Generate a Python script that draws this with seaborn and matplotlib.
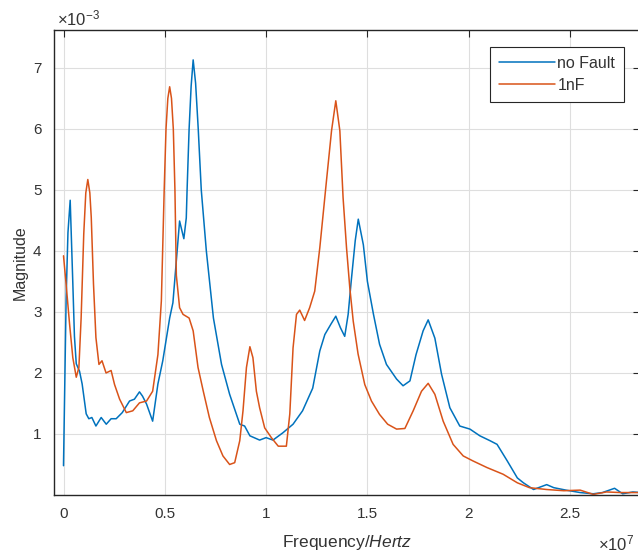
import numpy as np
import pandas as pd
import matplotlib
matplotlib.use("Agg")
import matplotlib.pyplot as plt
import seaborn as sns
from matplotlib.ticker import FixedLocator, FuncFormatter

# ---- data (frequency in units of 1e7 Hz, magnitude in units of 1e-3) ----
nofault_f = [0.0, 0.013, 0.022, 0.033, 0.046, 0.054, 0.063, 0.079, 0.092, 0.112, 0.125,
             0.14, 0.16, 0.186, 0.211, 0.235, 0.26, 0.29, 0.326, 0.35, 0.375, 0.39,
             0.41, 0.44, 0.466, 0.49, 0.524, 0.54, 0.557, 0.573, 0.594, 0.606, 0.61,
             0.62, 0.63, 0.64, 0.652, 0.665, 0.68, 0.705, 0.74, 0.78, 0.82, 0.87,
             0.894, 0.92, 0.968, 1.0, 1.034, 1.083, 1.133, 1.18, 1.23, 1.265, 1.29,
             1.32, 1.344, 1.367, 1.388, 1.405, 1.42, 1.44, 1.455, 1.48, 1.5, 1.53,
             1.56, 1.594, 1.644, 1.676, 1.71, 1.74, 1.775, 1.80, 1.833, 1.866, 1.907,
             1.956, 2.006, 2.055, 2.105, 2.14, 2.19, 2.24, 2.27, 2.32, 2.385, 2.42,
             2.48, 2.55, 2.615, 2.66, 2.72, 2.76, 2.81, 2.85]
nofault_m = [0.48, 3.23, 4.3, 4.83, 3.47, 2.6, 2.15, 2.03, 1.82, 1.33, 1.25,
             1.27, 1.13, 1.27, 1.16, 1.25, 1.25, 1.35, 1.54, 1.57, 1.69, 1.62,
             1.49, 1.21, 1.82, 2.2, 2.9, 3.15, 3.84, 4.49, 4.2, 4.54, 5.0,
             6.0, 6.7, 7.13, 6.75, 6.0, 5.0, 4.0, 2.9, 2.14, 1.65, 1.16,
             1.13, 0.97, 0.9, 0.94, 0.9, 1.02, 1.16, 1.38, 1.75, 2.36, 2.63,
             2.8, 2.93, 2.74, 2.6, 2.96, 3.5, 4.17, 4.52, 4.1, 3.5, 2.96,
             2.47, 2.14, 1.9, 1.79, 1.87, 2.3, 2.69, 2.87, 2.57, 1.98, 1.43,
             1.13, 1.08, 0.97, 0.89, 0.83, 0.56, 0.28, 0.2, 0.09, 0.17, 0.12,
             0.08, 0.04, 0.02, 0.04, 0.11, 0.02, 0.05, 0.04]

fault_f = [0.0, 0.013, 0.03, 0.046, 0.063, 0.076, 0.087, 0.1, 0.11, 0.12, 0.13, 0.137,
           0.148, 0.16, 0.175, 0.19, 0.21, 0.235, 0.252, 0.277, 0.31, 0.342, 0.375,
           0.41, 0.44, 0.466, 0.483, 0.497, 0.506, 0.515, 0.524, 0.533, 0.542, 0.55,
           0.557, 0.573, 0.59, 0.62, 0.64, 0.664, 0.69, 0.72, 0.755, 0.787, 0.82,
           0.845, 0.87, 0.886, 0.903, 0.92, 0.935, 0.952, 0.968, 0.993, 1.026, 1.06,
           1.1, 1.117, 1.133, 1.15, 1.166, 1.19, 1.215, 1.24, 1.265, 1.298, 1.323,
           1.344, 1.364, 1.38, 1.397, 1.413, 1.43, 1.454, 1.487, 1.52, 1.56, 1.6,
           1.644, 1.685, 1.726, 1.767, 1.80, 1.833, 1.874, 1.923, 1.973, 2.02, 2.09,
           2.17, 2.24, 2.3, 2.385, 2.47, 2.55, 2.615, 2.68, 2.75, 2.81, 2.85]
fault_m = [3.92, 3.45, 2.8, 2.25, 1.93, 2.09, 2.9, 4.28, 4.95, 5.17, 4.95, 4.55,
           3.46, 2.58, 2.14, 2.2, 2.0, 2.04, 1.81, 1.57, 1.35, 1.38, 1.51,
           1.54, 1.7, 2.3, 3.18, 5.0, 6.0, 6.5, 6.69, 6.5, 6.0, 5.0,
           3.6, 3.07, 2.96, 2.9, 2.69, 2.09, 1.7, 1.27, 0.89, 0.64, 0.5,
           0.53, 0.89, 1.38, 2.09, 2.43, 2.25, 1.7, 1.43, 1.1, 0.94, 0.8,
           0.8, 1.33, 2.41, 2.96, 3.03, 2.86, 3.07, 3.34, 4.05, 5.15, 5.97,
           6.46, 5.97, 4.87, 4.05, 3.4, 2.85, 2.31, 1.81, 1.54, 1.32, 1.16,
           1.08, 1.09, 1.38, 1.7, 1.83, 1.65, 1.21, 0.83, 0.64, 0.56, 0.45,
           0.34, 0.2, 0.12, 0.09, 0.07, 0.08, 0.01, 0.05, 0.04, 0.04, 0.04]

series_names = ["no Fault", "1nF"]
colors = ["#0072BD", "#D95319"]
x_ticks = [0, 0.5, 1, 1.5, 2, 2.5]
x_tick_labels = ["0", "0.5", "1", "1.5", "2", "2.5"]
y_ticks = [1, 2, 3, 4, 5, 6, 7]
y_tick_labels = ["1", "2", "3", "4", "5", "6", "7"]
X_SCALE = 1e7
Y_SCALE = 1e-3

df = pd.concat([
    pd.DataFrame({"Frequency": np.array(nofault_f) * X_SCALE,
                  "Magnitude": np.array(nofault_m) * Y_SCALE,
                  "series": series_names[0]}),
    pd.DataFrame({"Frequency": np.array(fault_f) * X_SCALE,
                  "Magnitude": np.array(fault_m) * Y_SCALE,
                  "series": series_names[1]}),
], ignore_index=True)

# ---- style ----
sns.set_style("white")
plt.rcParams["font.family"] = ["Liberation Sans", "DejaVu Sans"]
plt.rcParams["mathtext.fontset"] = "custom"
plt.rcParams["mathtext.rm"] = "Liberation Sans"
plt.rcParams["mathtext.it"] = "Liberation Sans:italic"
plt.rcParams["mathtext.default"] = "rm"

TXT = "#333333"
SPINE = "#262626"

W, H = 638, 556
fig = plt.figure(figsize=(W / 100, H / 100), dpi=100)
left, top, bottom, right = 54, 30, 495, 640
ax = fig.add_axes([left / W, 1 - bottom / H, (right - left) / W, (bottom - top) / H])

sns.lineplot(data=df, x="Frequency", y="Magnitude", hue="series",
             hue_order=series_names, palette=colors, estimator=None,
             sort=False, linewidth=1.1, ax=ax, legend=False)

px_per_unit = 202.6
x0_px = 63.5
ax.set_xlim((left - x0_px) / px_per_unit * X_SCALE, (right - x0_px) / px_per_unit * X_SCALE)
ax.set_ylim(0, 7.62 * Y_SCALE)

ax.xaxis.set_major_locator(FixedLocator([t * X_SCALE for t in x_ticks]))
ax.yaxis.set_major_locator(FixedLocator([t * Y_SCALE for t in y_ticks]))
ax.xaxis.set_major_formatter(FuncFormatter(lambda v, p: x_tick_labels[p] if p is not None and p < len(x_tick_labels) else ""))
ax.yaxis.set_major_formatter(FuncFormatter(lambda v, p: y_tick_labels[p] if p is not None and p < len(y_tick_labels) else ""))

ax.grid(True, color="#dedede", linewidth=0.8)
ax.set_axisbelow(True)
for s in ax.spines.values():
    s.set_color(SPINE)
    s.set_linewidth(1.0)
ax.tick_params(direction="in", length=5, width=0.8, color=SPINE,
               top=True, right=True, labelsize=11, labelcolor=TXT, pad=9)

ax.set_xlabel("Frequency/$\\mathit{Hertz}$", fontsize=12.5, color=TXT, labelpad=8)
ax.set_ylabel("Magnitude", fontsize=11.5, color=TXT)
ax.yaxis.set_label_coords((28 - left) / (right - left), 0.5)

# exponent labels
fig.text(57 / W, 1 - 25 / H, "$\\times10^{-3}$", fontsize=12, color=TXT, va="baseline", ha="left")
fig.text(598 / W, 1 - 550 / H, "$\\times10^{7}$", fontsize=12, color=TXT, va="baseline", ha="left")

handles = [plt.Line2D([], [], color=c, linewidth=1.1) for c in colors]
leg = ax.legend(handles, series_names, loc="upper right",
                bbox_to_anchor=(624 / W, 1 - 47 / H), bbox_transform=fig.transFigure,
                borderaxespad=0, fontsize=11.5, frameon=True, fancybox=False,
                handlelength=3.5, handletextpad=0.15, labelspacing=0.45,
                borderpad=0.55, framealpha=1)
leg.get_frame().set_edgecolor(SPINE)
leg.get_frame().set_linewidth(0.8)
for t in leg.get_texts():
    t.set_color(TXT)

fig.savefig("out.png", dpi=100)
